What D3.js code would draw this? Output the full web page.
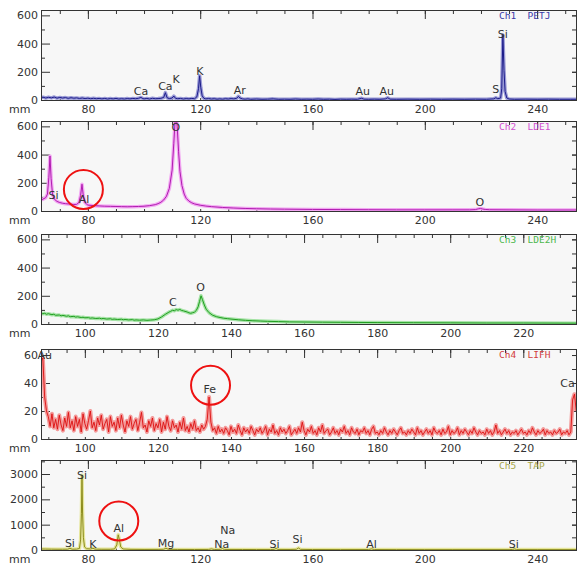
<!DOCTYPE html>
<html>
<head>
<meta charset="utf-8">
<script src="https://cdn.jsdelivr.net/npm/d3@7"></script>
<style>
  body { margin: 0; background: #fff; }
  svg { display: block; font-family: "DejaVu Sans", sans-serif; }
</style>
</head>
<body>
<div id="chart"></div>
<script>
// ---- x ranges (mm) and tick labels ----
const xWide = [63.3, 254.2];
const xNarrow = [88, 234.7];
const xLabelsWide = [80, 120, 160, 200, 240];
const xLabelsNarrow = [100, 120, 140, 160, 180, 200, 220];
const yLabels600 = [0, 200, 400, 600];
const yLabels60 = [0, 20, 40, 60];
const yLabels3000 = [0, 1000, 2000, 3000];

// ---- Ch1 PETJ : [mm, counts] ----
const ch1Spectrum = [[63.3,16],[64,20],[65,14],[66,19],[67,15],[68,21],[69,13],[70,18],[71,14],[72,17],[73,12],[74,16],[75,13],[76,15],[77,11],[78,14],[79,10],[80,13],[81,9],[82,12],[83,9],[84,11],[85,8],[86,11],[87,7],[88,10],[89,8],[90,11],[91,7],[92,9],[93,7],[94,10],[95,8],[96,11],[97,9],[98,12],[98.9,18],[99.6,10],[100,8],[101,11],[102,7],[103,12],[104,9],[105,10],[106,12],[107,18],[107.6,52],[108.2,16],[109,10],[110,14],[110.6,28],[111.2,12],[112,9],[113,11],[114,7],[115,10],[116,8],[117,11],[118,9],[118.8,22],[119.4,80],[119.8,172],[120.2,90],[120.7,30],[121.3,12],[122,8],[123,10],[124,7],[125,9],[126,6],[127,8],[128,6],[129,9],[130,7],[131,10],[132,8],[133,12],[133.6,26],[134.2,14],[135,8],[136,6],[137,8],[138,5],[140,7],[142,5],[144,6],[146,8],[148,5],[150,6],[152,5],[154,7],[156,5],[158,6],[160,5],[162,7],[164,5],[166,6],[168,4],[170,6],[172,5],[174,6],[176,5],[177.5,12],[178.3,6],[180,5],[182,6],[184,5],[186,8],[186.8,16],[187.6,6],[190,5],[194,6],[198,5],[202,6],[206,5],[210,6],[214,5],[218,6],[222,5],[224.5,8],[225.3,16],[226,9],[227,14],[227.4,80],[227.8,460],[228.2,210],[228.6,60],[229.2,14],[230,7],[232,5],[236,6],[240,5],[244,6],[248,5],[252,5],[254.2,5]];
const ch1Labels = [["Ca",98.9,36],["Ca",107.6,68],["K",111.4,118],["K",119.9,179],["Ar",134.1,43],["Au",177.9,36],["Au",186.4,36],["S",225.3,50],["Si",227.8,443]];

// ---- Ch2 LDE1 ----
const ch2Spectrum = [[63.3,78],[64,84],[65,95],[65.6,120],[66.1,240],[66.5,390],[66.9,230],[67.4,120],[68,85],[69,68],[70,60],[71,55],[72,52],[73,50],[74,48],[75,46],[76,47],[76.8,60],[77.4,110],[77.9,190],[78.3,120],[78.8,65],[79.5,48],[80,42],[82,38],[84,36],[86,34],[88,33],[90,32],[92,31],[94,30],[96,31],[98,32],[100,34],[102,38],[104,45],[105,52],[106,62],[107,78],[108,105],[109,160],[110,290],[110.6,480],[111,620],[111.4,680],[111.8,600],[112.3,420],[112.8,280],[113.5,180],[114.3,120],[115,90],[116,70],[117,58],[118,50],[120,41],[122,35],[124,31],[126,28],[128,25],[132,21],[136,18],[140,16],[145,14],[150,13],[160,11],[170,10],[180,9],[190,8],[200,8],[210,8],[216,8],[218,10],[219,15],[219.8,18],[220.6,14],[221.5,11],[223,9],[230,8],[240,7],[254.2,7]];
const ch2Labels = [["Si",67.8,84],["Al",78.6,56],["O",111.3,565],["O",219.6,35]];

// ---- Ch3 LDE2H ----
const ch3Spectrum = [[88,80],[88.5,72],[89,76],[89.5,69],[90,73],[91,66],[91.5,69],[92,62],[93,64],[93.5,58],[94,61],[95,55],[95.5,58],[96,52],[97,54],[97.5,49],[98,51],[99,46],[99.5,48],[100,44],[101,45],[101.5,41],[102,43],[103,39],[104,41],[104.5,37],[105,39],[106,35],[107,37],[107.5,33],[108,35],[109,32],[110,34],[110.5,30],[111,32],[112,29],[113,31],[113.5,27],[114,29],[115,27],[116,29],[117,26],[118,28],[119,30],[120,36],[121,50],[122,68],[123,84],[123.5,90],[124,97],[124.5,94],[125,102],[125.5,98],[126,103],[126.5,96],[127,93],[128,85],[128.5,79],[129,76],[129.5,80],[130,84],[130.5,96],[131,122],[131.4,160],[131.8,200],[132.2,172],[132.7,135],[133.2,105],[134,80],[135,62],[136,52],[137,46],[138,41],[139,38],[140,35],[142,30],[144,26],[146,23],[148,21],[150,19],[153,17],[156,15],[160,14],[165,13],[170,12],[175,11],[180,10],[190,9],[200,8],[210,7],[220,7],[234.7,6]];
const ch3Labels = [["C",124.1,127],["O",131.7,233]];

// ---- Ch4 LIFH : counts sampled every 0.5 mm from 88 mm ----
const ch4Start = 88;
const ch4Step = 0.5;
const ch4Counts = [
  55,58,30,20,16,9,18,8,14,7,17,10,6,15,9,19,8,13,6,16,
  9,14,5,18,11,7,13,20,8,12,6,15,10,17,7,11,14,5,16,9,
  12,6,15,8,17,10,5,13,9,16,7,11,14,6,12,19,8,10,5,13,
  9,15,6,11,8,14,5,12,7,16,9,6,13,8,10,5,12,7,15,6,
  9,5,11,7,13,6,8,5,10,7,9,14,30,12,6,8,4,9,5,7,
  4,8,6,3,9,5,7,4,10,6,3,8,5,7,4,9,6,3,7,5,
  8,4,6,9,3,7,5,10,4,6,3,8,5,7,4,6,9,3,5,7,
  4,8,5,12,6,3,7,5,9,4,6,3,8,5,10,4,6,7,3,5,
  8,4,6,3,7,5,9,4,6,3,8,5,4,7,3,6,5,8,4,6,
  3,7,9,4,5,3,6,4,8,5,3,6,4,7,5,3,6,8,4,5,
  3,6,4,7,5,3,8,4,6,3,5,7,4,6,3,8,5,4,6,3,
  7,4,5,9,3,6,4,5,8,3,6,4,7,5,3,6,4,8,5,3,
  6,4,5,3,7,4,6,3,5,10,4,6,3,5,7,4,6,3,5,4,
  6,3,5,7,4,5,3,6,4,8,5,3,6,4,5,7,3,6,4,5,
  3,6,4,5,7,3,5,4,6,3,5,28,32,20
];
const ch4Labels = [["Au",89.0,57],["Fe",134.2,33],["Ca",232.1,37]];

// ---- Ch5 TAP ----
const ch5Spectrum = [[63.3,40],[65,36],[67,33],[69,30],[71,30],[72.8,32],[73.6,65],[74.4,32],[76,35],[77,60],[77.4,400],[77.7,1450],[77.9,2950],[78.1,1500],[78.4,500],[78.8,120],[79.5,50],[81,40],[81.8,70],[82.5,35],[85,28],[88,28],[89.5,40],[90.3,200],[90.8,600],[91.2,420],[91.7,120],[92.5,40],[95,26],[100,22],[105,24],[107,30],[107.8,70],[108.6,28],[112,22],[118,20],[123,22],[124,45],[125,20],[127.3,25],[127.9,55],[128.6,22],[135,20],[140,18],[145,18],[146.4,25],[147,60],[147.7,22],[152,20],[154.3,28],[155,80],[155.7,25],[160,18],[170,16],[180,18],[181,45],[182,18],[190,16],[200,15],[210,15],[220,15],[230,15],[231.3,22],[232,45],[232.7,16],[240,15],[254.2,15]];
const ch5Labels = [["Si",77.9,2800],["Si",73.6,118],["K",81.8,80],["Al",91,710],["Mg",107.8,118],["Na",129.8,630],["Na",127.7,80],["Si",146.5,80],["Si",154.7,276],["Al",181,80],["Si",231.7,80]];

// ---- highlighted peaks (red circles) : [panel, mm, counts] ----
const highlights = [[1, 78.4, 153], [3, 134.4, 38.4], [4, 91.0, 1146]];

const panels = [
  { name: "Ch1  PETJ", data: ch1Spectrum, labels: ch1Labels, xDomain: xWide, xLabels: xLabelsWide, xMinor: 10,
    yTop: 638, yLabels: yLabels600, yMinor: 100, color: "#1c1c8a", halo: "#9a9ad6", nameColor: "#3a3aa8" },
  { name: "Ch2  LDE1", data: ch2Spectrum, labels: ch2Labels, xDomain: xWide, xLabels: xLabelsWide, xMinor: 10,
    yTop: 638, yLabels: yLabels600, yMinor: 100, color: "#b01cb0", halo: "#f2a6f2", nameColor: "#d24ed2" },
  { name: "Ch3  LDE2H", data: ch3Spectrum, labels: ch3Labels, xDomain: xNarrow, xLabels: xLabelsNarrow, xMinor: 5,
    yTop: 638, yLabels: yLabels600, yMinor: 100, color: "#1f9e1f", halo: "#a6e3a6", nameColor: "#4cb84c" },
  { name: "Ch4  LIFH", data: ch4Counts.map((c, i) => [ch4Start + i * ch4Step, c]), labels: ch4Labels,
    xDomain: xNarrow, xLabels: xLabelsNarrow, xMinor: 5,
    yTop: 64.3, yLabels: yLabels60, yMinor: 10, color: "#dd1010", halo: "#f39a9a", nameColor: "#d23c3c" },
  { name: "Ch5  TAP", data: ch5Spectrum, labels: ch5Labels, xDomain: xWide, xLabels: xLabelsWide, xMinor: 10,
    yTop: 3553, yLabels: yLabels3000, yMinor: 500, color: "#8c8c1e", halo: "#e6e69a", nameColor: "#a6a646" }
];

const W = 583, H = 568;
const left = 41, right = 577;
const tops = [10, 121, 234, 349, 460];
const panelH = 91;

const svg = d3.select('#chart').append('svg')
  .attr('width', W)
  .attr('height', H);

panels.forEach((p, i) => {
  const top = tops[i];
  const base = top + 90;
  const x = d3.scaleLinear().domain(p.xDomain).range([left, right]);
  const y = d3.scaleLinear().domain([0, p.yTop]).range([base, top]);
  const g = svg.append('g');

  g.append('rect')
    .attr('x', left).attr('y', top)
    .attr('width', right - left).attr('height', panelH)
    .attr('fill', '#f7f7f7');

  svg.append('clipPath').attr('id', 'clip' + i)
    .append('rect')
    .attr('x', left).attr('y', top)
    .attr('width', right - left).attr('height', panelH);

  const xMinorTicks = d3.range(Math.ceil(p.xDomain[0] / p.xMinor) * p.xMinor, p.xDomain[1], p.xMinor);
  const yMinorTicks = d3.range(p.yMinor, p.yTop, p.yMinor);

  const tickStyle = sel => sel.call(s => s.select('.domain').remove())
    .call(s => s.selectAll('.tick line').attr('stroke', '#333'))
    .call(s => s.selectAll('.tick text').attr('fill', '#333').style('font-size', '11px')
      .style('font-family', '"DejaVu Sans", sans-serif'));

  // top ticks
  g.append('g').attr('transform', `translate(0,${top})`)
    .call(d3.axisTop(x).tickValues(xMinorTicks).tickSize(-4).tickFormat(''))
    .call(tickStyle);
  g.append('g').attr('transform', `translate(0,${top})`)
    .call(d3.axisTop(x).tickValues(p.xLabels).tickSize(-9).tickFormat(''))
    .call(tickStyle);

  // bottom ticks + labels
  g.append('g').attr('transform', `translate(0,${top + panelH})`)
    .call(d3.axisBottom(x).tickValues(xMinorTicks).tickSize(-3).tickFormat(''))
    .call(tickStyle);
  g.append('g').attr('transform', `translate(0,${top + panelH})`)
    .call(d3.axisBottom(x).tickValues(p.xLabels).tickSize(0).tickPadding(4))
    .call(tickStyle);

  // left ticks
  g.append('g').attr('transform', `translate(${left},0)`)
    .call(d3.axisLeft(y).tickValues(yMinorTicks.filter(v => !p.yLabels.includes(v))).tickSize(-4).tickFormat(''))
    .call(tickStyle);
  g.append('g').attr('transform', `translate(${left},0)`)
    .call(d3.axisLeft(y).tickValues(p.yLabels).tickSize(-9).tickPadding(3).tickFormat(d3.format('d')))
    .call(tickStyle)
    .call(s => s.selectAll('.tick text').attr('x', -3));

  // right ticks
  g.append('g').attr('transform', `translate(${right},0)`)
    .call(d3.axisRight(y).tickValues(yMinorTicks.concat(p.yLabels.filter(v => v > 0))).tickSize(-5).tickFormat(''))
    .call(tickStyle);

  // spectrum
  const plot = g.append('g').attr('clip-path', `url(#clip${i})`);
  const line = d3.line().x(d => x(d[0])).y(d => y(d[1]));

  plot.append('path').datum(p.data)
    .attr('d', line)
    .attr('fill', 'none')
    .attr('stroke', p.halo)
    .attr('stroke-width', i === 3 ? 4 : 3.5)
    .attr('stroke-linejoin', 'round');
  plot.append('path').datum(p.data)
    .attr('d', line)
    .attr('fill', 'none')
    .attr('stroke', p.color)
    .attr('stroke-width', i === 3 ? 0.9 : 1)
    .attr('stroke-linejoin', 'round');

  // element labels
  g.selectAll('text.el')
    .data(p.labels)
    .enter().append('text')
    .attr('class', 'el')
    .attr('x', d => x(d[1]))
    .attr('y', d => y(d[2]))
    .attr('text-anchor', 'middle')
    .style('font-size', '11px')
    .style('fill', '#333')
    .text(d => d[0]);

  // frame
  g.append('rect')
    .attr('x', left + 0.5).attr('y', top + 0.5)
    .attr('width', right - left - 1).attr('height', panelH - 1)
    .attr('fill', 'none')
    .attr('stroke', '#333')
    .attr('stroke-width', 1);

  g.append('text')
    .attr('x', 9).attr('y', top + panelH + 12)
    .style('font-size', '11px')
    .style('fill', '#333')
    .text('mm');

  g.append('text')
    .attr('x', 499).attr('y', top + 9)
    .style('font-family', '"DejaVu Sans Mono", monospace')
    .style('font-size', '9.5px')
    .style('white-space', 'pre')
    .style('fill', p.nameColor)
    .text(p.name);

  highlights.filter(h => h[0] === i).forEach(h => {
    g.append('circle')
      .attr('cx', x(h[1]))
      .attr('cy', y(h[2]))
      .attr('r', 19.5)
      .attr('fill', 'none')
      .attr('stroke', '#ee1111')
      .attr('stroke-width', 2);
  });
});
</script>
</body>
</html>
